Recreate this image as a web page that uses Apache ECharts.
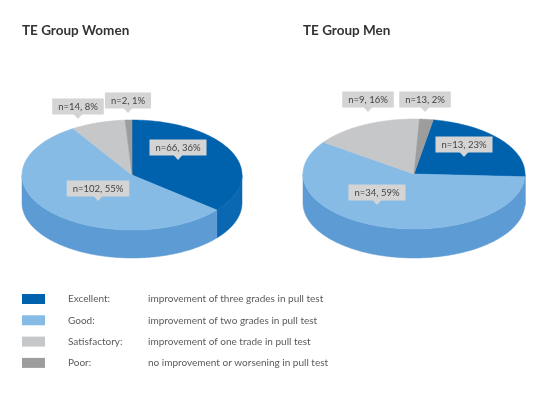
<!DOCTYPE html>
<html>
<head>
<meta charset="utf-8">
<script src="https://cdn.jsdelivr.net/npm/echarts@6/dist/echarts.min.js"></script>
<style>
  html, body { margin: 0; padding: 0; background: #fff; }
  #chart { width: 560px; height: 396px; }
</style>
</head>
<body>
<div id="chart"></div>
<script>
// data
const categories = ['Excellent', 'Good', 'Satisfactory', 'Poor'];
const descriptions = [
    'improvement of three grades in pull test',
    'improvement of two grades in pull test',
    'improvement of one trade in pull test',
    'no improvement or worsening in pull test'
];
const womenCounts = [66, 102, 14, 2];
const womenPercents = [36, 55, 8, 1];
const menCounts = [13, 34, 9, 13];
const menPercents = [23, 59, 16, 2];
const pieTitles = ['TE Group Women', 'TE Group Men'];

// styles
const topColors = ['#0061ad', '#86bbe6', '#c6c7c9', '#9d9d9d'];
const sideColors = ['#0a68b3', '#5d9bd4', '#a9aaac', '#858585'];
const FONT = 'Lato';

// pie layout (center, radii, depth, start angle clockwise from 12 o'clock, label tip offsets)
const pies = [
    {
        counts: womenCounts, percents: womenPercents,
        cx: 132, cy: 175, rx: 110, ry: 55, depth: 28, start: 0,
        tips: [[46, -15], [-34, 26], [-54, -56], [-4, -62]]
    },
    {
        counts: menCounts, percents: menPercents,
        cx: 414, cy: 174, rx: 111, ry: 55, depth: 29, start: 10,
        tips: [[50, -17], [-37, 31], [-46, -62], [11, -62]]
    }
];

function sliceAngles(pie) {
    const total = pie.percents.reduce((a, b) => a + b, 0);
    let acc = pie.start;
    return pie.percents.map(v => {
        const a1 = acc;
        acc += v / total * 360;
        return [a1, acc];
    });
}

function pt(pie, deg, dy) {
    const r = deg * Math.PI / 180;
    return [pie.cx + pie.rx * Math.sin(r), pie.cy - pie.ry * Math.cos(r) + (dy || 0)];
}

function arc(pie, a1, a2, dy) {
    const pts = [];
    const n = Math.max(2, Math.ceil(Math.abs(a2 - a1)));
    for (let k = 0; k <= n; k++) {
        pts.push(pt(pie, a1 + (a2 - a1) * k / n, dy));
    }
    return pts;
}

function makeRenderShapes(pie) {
    const angles = sliceAngles(pie);
    return function (params, api) {
        const i = api.value(0);
        const [a1, a2] = angles[i];
        const children = [];
        // visible front wall
        [[90, 270], [450, 630]].forEach(([lo, hi]) => {
            const s = Math.max(a1, lo), e = Math.min(a2, hi);
            if (e > s) {
                const pts = arc(pie, s, e, 0).concat(arc(pie, e, s, pie.depth));
                children.push({
                    type: 'polygon',
                    shape: { points: pts },
                    style: { fill: sideColors[i], stroke: sideColors[i], lineWidth: 0.5 },
                    z2: 1
                });
            }
        });
        // top face
        children.push({
            type: 'polygon',
            shape: { points: [[pie.cx, pie.cy]].concat(arc(pie, a1, a2, 0)) },
            style: { fill: topColors[i], stroke: topColors[i], lineWidth: 0.5 },
            z2: 2
        });
        return { type: 'group', children: children };
    };
}

function makeRenderLabels(pie) {
    return function (params, api) {
        const i = api.value(0);
        const x = pie.cx + pie.tips[i][0];
        const y = pie.cy + pie.tips[i][1];
        return {
            type: 'group',
            children: [
                {
                    type: 'polygon',
                    shape: { points: [[x - 4.5, y - 5], [x + 4.5, y - 5], [x, y]] },
                    style: { fill: '#d4d4d4' }
                },
                {
                    type: 'text',
                    x: x,
                    y: y - 4.5,
                    style: {
                        text: 'n=' + pie.counts[i] + ', ' + pie.percents[i] + '%',
                        fill: '#444',
                        fontSize: 9.5,
                        fontFamily: FONT,
                        align: 'center',
                        verticalAlign: 'bottom',
                        backgroundColor: '#d4d4d4',
                        padding: [3, 6, 3, 6]
                    }
                }
            ]
        };
    };
}

const series = [];
pies.forEach(pie => {
    series.push({
        type: 'custom',
        coordinateSystem: 'none',
        renderItem: makeRenderShapes(pie),
        data: categories.map((c, i) => [i]),
        silent: true,
        z: 2
    });
    series.push({
        type: 'custom',
        coordinateSystem: 'none',
        renderItem: makeRenderLabels(pie),
        data: categories.map((c, i) => [i]),
        silent: true,
        z: 3
    });
});

// legend drawn as graphic rows
const legendGraphic = [];
categories.forEach((c, i) => {
    const yc = 299 + i * 21.3;
    legendGraphic.push({
        type: 'rect',
        shape: { x: 22, y: yc - 5, width: 23, height: 10 },
        style: { fill: topColors[i] }
    });
    legendGraphic.push({
        type: 'text',
        x: 68, y: yc,
        style: { text: c + ':', fill: '#5a5a5a', fontSize: 10, fontFamily: FONT, verticalAlign: 'middle' }
    });
    legendGraphic.push({
        type: 'text',
        x: 148, y: yc,
        style: { text: descriptions[i], fill: '#5a5a5a', fontSize: 10, fontFamily: FONT, verticalAlign: 'middle' }
    });
});

const chart = echarts.init(document.getElementById('chart'));
chart.setOption({
    animation: false,
    title: pieTitles.map((t, k) => ({
        text: t,
        left: k === 0 ? 22 : 303,
        top: 24,
        padding: 0,
        textStyle: { fontSize: 13.5, fontWeight: 'bold', color: '#333', fontFamily: FONT }
    })),
    graphic: legendGraphic,
    series: series
});
</script>
</body>
</html>
